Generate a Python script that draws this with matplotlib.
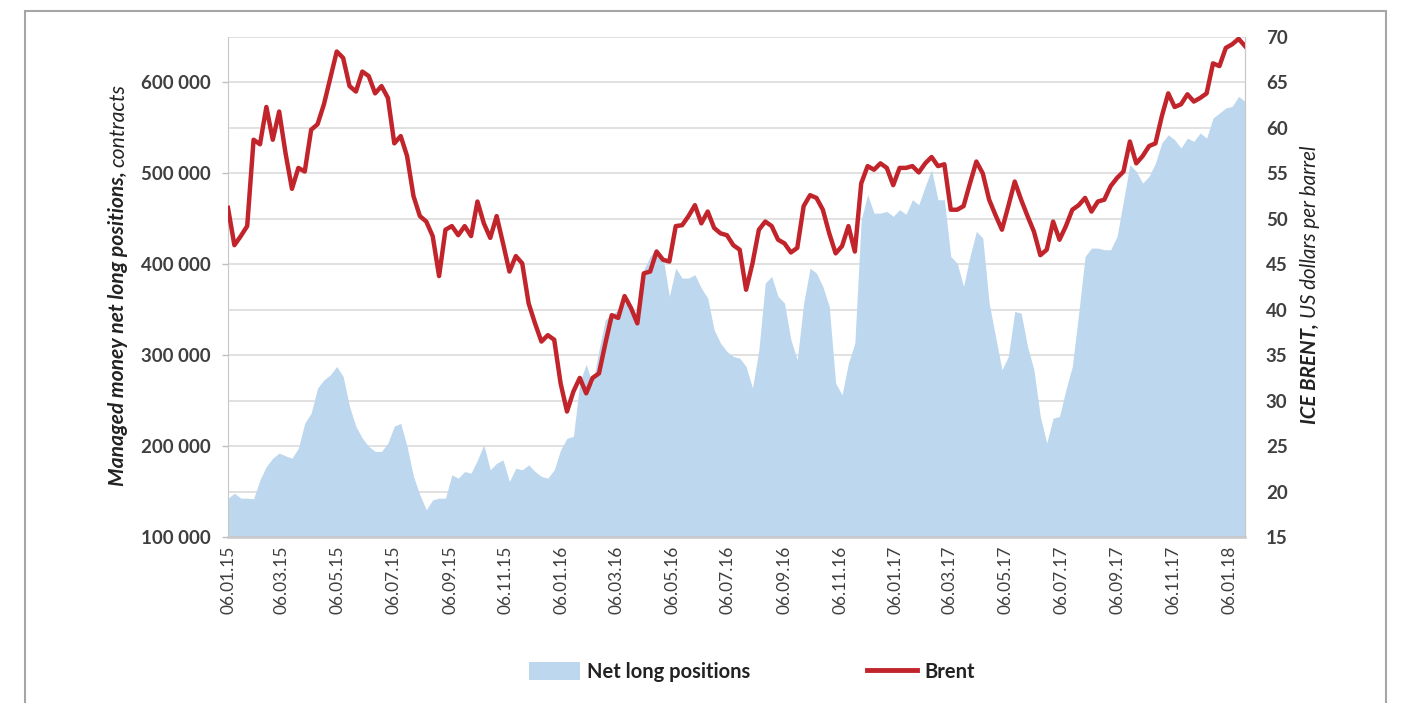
import pandas as pd
import numpy as np
import matplotlib
matplotlib.use('Agg')
import matplotlib.pyplot as plt
import matplotlib.dates as mdates
from matplotlib.patches import Patch, Rectangle
from matplotlib.lines import Line2D
from matplotlib.ticker import FuncFormatter, MultipleLocator

plt.rcParams['font.family'] = ['Lato', 'DejaVu Sans']

# weekly observations, starting 06.01.15
start_date = '2015-01-06'

# managed money net long positions, contracts (left axis)
net_long = [
    142700, 148200, 142700, 142700, 142000, 162900, 177600, 186700, 192300, 189300,
    186700, 197700, 225200, 236300, 263800, 272900, 278400, 287600, 276600, 243600,
    221600, 208700, 199600, 194100, 194100, 203300, 222000, 225000, 199600, 166600,
    146400, 129900, 140900, 142700, 142700, 168400, 164700, 172000, 170200, 184800,
    201400, 173900, 181200, 184800, 161100, 175700, 173900, 179400, 172000, 166600,
    164700, 173900, 195900, 208700, 210600, 270000, 290000, 268000, 305900, 339000,
    344500, 350000, 357300, 353700, 342600, 394000, 408600, 417800, 408600, 364600,
    395800, 384800, 384800, 388500, 373800, 362800, 327900, 313300, 304100, 298600,
    296800, 287600, 263800, 305900, 379300, 386600, 364600, 357300, 317000, 294900,
    357300, 395800, 390300, 375600, 353700, 269300, 256400, 291300, 313300, 449000,
    476500, 456300, 456300, 458200, 452700, 460000, 455000, 471000, 465500, 485700,
    504000, 471000, 471000, 408600, 401300, 375600, 408600, 436200, 428800, 357300,
    320600, 283900, 298600, 348100, 346300, 309600, 283900, 232600, 203300, 230700,
    232600, 262000, 287600, 346300, 408600, 417800, 417800, 416000, 416000, 430700,
    470000, 509500, 502200, 489300, 496700, 511300, 533600, 542500, 537000, 527900,
    538800, 535200, 544400, 538800, 560900, 566300, 571900, 573700, 584700, 579200,
]

# ICE Brent, US dollars per barrel (right axis)
brent = [
    51.2, 47.1, 48.1, 49.2, 58.7, 58.2, 62.3, 58.7, 61.8, 57.2,
    53.3, 55.6, 55.2, 59.8, 60.4, 62.6, 65.5, 68.4, 67.7, 64.6,
    64.0, 66.2, 65.7, 63.8, 64.6, 63.3, 58.3, 59.1, 56.9, 52.5,
    50.3, 49.7, 48.1, 43.7, 48.8, 49.2, 48.2, 49.2, 48.1, 51.9,
    49.5, 47.9, 50.3, 47.3, 44.2, 45.9, 45.1, 40.7, 38.5, 36.5,
    37.2, 36.7, 31.9, 28.8, 31.0, 32.5, 30.8, 32.5, 33.0, 36.3,
    39.4, 39.1, 41.5, 40.2, 38.5, 44.0, 44.2, 46.4, 45.5, 45.3,
    49.2, 49.3, 50.3, 51.5, 49.5, 50.8, 49.0, 48.4, 48.2, 47.1,
    46.6, 42.2, 45.1, 48.8, 49.7, 49.2, 47.7, 47.3, 46.3, 46.8,
    51.4, 52.6, 52.3, 51.0, 48.4, 46.2, 47.0, 49.2, 46.4, 53.9,
    55.8, 55.4, 56.1, 55.6, 53.7, 55.6, 55.6, 55.8, 55.1, 56.1,
    56.8, 55.8, 56.0, 51.0, 51.0, 51.4, 53.9, 56.3, 55.0, 52.1,
    50.4, 48.8, 51.4, 54.1, 52.1, 50.3, 48.6, 46.0, 46.6, 49.7,
    47.7, 49.2, 51.0, 51.5, 52.3, 50.8, 51.9, 52.1, 53.6, 54.5,
    55.2, 58.5, 56.1, 56.9, 58.0, 58.3, 61.3, 63.8, 62.3, 62.6,
    63.7, 62.9, 63.3, 63.8, 67.1, 66.8, 68.8, 69.2, 69.8, 69.0,
]

dates = pd.date_range(start_date, periods=len(brent), freq='7D')

fill_color = '#BDD7EE'
red = '#C1252B'
grid_color = '#dcdcdc'
tick_color = '#3f3f3f'

W, H = 1401, 703
fig = plt.figure(figsize=(W / 100, H / 100), dpi=100)
ax = fig.add_axes([228 / W, 1 - 537 / H, (1245 - 228) / W, (537 - 37) / H])

# area for net long positions
ax.fill_between(dates, 100000, net_long, color=fill_color, lw=0, zorder=1)
ax.set_ylim(100000, 650000)
ax.set_xlim(dates[0], dates[-1])
ax.yaxis.set_major_locator(MultipleLocator(100000))
ax.yaxis.set_minor_locator(MultipleLocator(50000))
ax.yaxis.set_major_formatter(FuncFormatter(lambda v, p: f'{int(v):,}'.replace(',', ' ')))
ax.set_axisbelow(True)
ax.grid(axis='y', which='both', color=grid_color, lw=1.2)
ax.tick_params(axis='y', which='major', length=4.5, width=1, color='#bfbfbf',
               pad=8, labelsize=13.5, labelcolor=tick_color)
ax.tick_params(axis='y', which='minor', length=0)
for lab in ax.get_yticklabels():
    lab.set_fontweight('bold')

ax.xaxis.set_major_locator(mdates.MonthLocator(bymonth=[1, 3, 5, 7, 9, 11], bymonthday=6))
ax.xaxis.set_major_formatter(mdates.DateFormatter('%d.%m.%y'))
ax.tick_params(axis='x', length=0, pad=6, labelsize=12.5, labelcolor=tick_color,
               labelrotation=90)

for side in ['left', 'bottom', 'right']:
    ax.spines[side].set_color('#c8c8c8')
ax.spines['bottom'].set_linewidth(1.8)
ax.spines['top'].set_visible(False)

# Brent line on second axis
ax2 = ax.twinx()
ax2.plot(dates, brent, color=red, lw=3.2, solid_joinstyle='round', zorder=3)
ax2.set_ylim(15, 70)
ax2.set_xlim(dates[0], dates[-1])
ax2.yaxis.set_major_locator(MultipleLocator(5))
ax2.tick_params(axis='y', length=0, pad=15, labelsize=13.5, labelcolor=tick_color)
for lab in ax2.get_yticklabels():
    lab.set_fontweight('bold')
for side in ['left', 'bottom', 'top']:
    ax2.spines[side].set_visible(False)
ax2.spines['right'].set_color('#c8c8c8')


def two_part_label(xc, yc, bold_part, plain_part, size):
    # vertical label, first part bold italic, rest italic
    t1 = fig.text(xc, 0, bold_part, rotation=90, ha='center', va='bottom',
                  fontsize=size, fontweight='bold', fontstyle='italic', color='#222222')
    t2 = fig.text(xc, 0, plain_part, rotation=90, ha='center', va='bottom',
                  fontsize=size, fontstyle='italic', color='#222222')
    fig.canvas.draw()
    r = fig.canvas.get_renderer()
    h1 = t1.get_window_extent(r).height
    h2 = t2.get_window_extent(r).height
    gap = 5
    y0 = (H - yc) - (h1 + gap + h2) / 2
    t1.set_position((xc, y0 / H))
    t2.set_position((xc, (y0 + h1 + gap) / H))


two_part_label(118 / W, 285, 'Managed money net long positions,', 'contracts', 15.2)
two_part_label(1310 / W, 285, 'ICE BRENT,', 'US dollars per barrel', 14.8)

handles = [Patch(facecolor=fill_color, edgecolor='none'),
           Line2D([], [], color=red, lw=3.5)]
leg = fig.legend(handles, ['Net long positions', 'Brent'], loc='center',
                 bbox_to_anchor=(752 / W, 1 - 672 / H), ncol=2, frameon=False,
                 handlelength=2.5, handleheight=1.0, handletextpad=0.35,
                 columnspacing=5.8, prop={'size': 14.5, 'weight': 'bold'})
for t in leg.get_texts():
    t.set_color('#222222')

# outer frame
fig.add_artist(Rectangle((25 / W, -0.02), (1386 - 25) / W, 1.02 - 11 / H,
                         transform=fig.transFigure, fill=False,
                         edgecolor='#a6a6a6', lw=1.5))

fig.savefig('out.png', dpi=100)
